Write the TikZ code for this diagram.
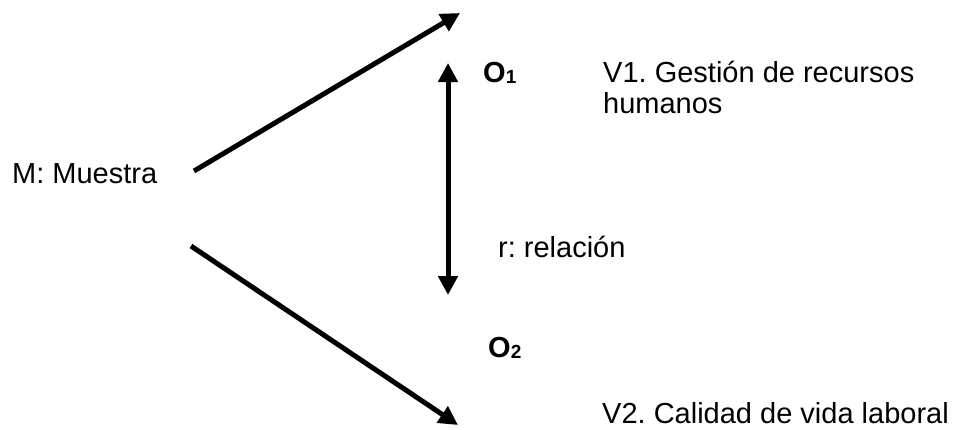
\documentclass[tikz,border=0pt]{standalone}
\usepackage{fontspec}
\setmainfont{Liberation Sans}
\usetikzlibrary{arrows.meta, positioning}
\frenchspacing
\tikzset{
    txt/.style = {inner sep=0pt, anchor=base west, font=\fontsize{29}{31}\selectfont},
    obs/.style = {inner sep=0pt, anchor=base west, font=\fontsize{29}{31}\selectfont\bfseries},
    arrow/.style = {line width=5pt, -{Triangle[length=19pt, width=19pt]}},
    twoarrow/.style = {line width=5pt, {Triangle[length=19pt, width=19pt]}-{Triangle[length=19pt, width=19pt]}}
}
\newcommand{\sub}[1]{{\fontsize{19}{19}\selectfont\raisebox{-1.5pt}{#1}}}

\begin{document}
\begin{tikzpicture}[x=1pt, y=-1pt]
\useasboundingbox (0,0) rectangle (954,429);
% Nodes
\node (M) [txt] at (12,183) {M: Muestra};
\node (O1) [obs] at (483,82) {O\sub{1}};
\node (O2) [obs] at (488,357) {O\sub{2}};
\node (V1) [txt, align=left] at (603,113) {V1. Gestión de recursos\\humanos};
\node (V2) [txt] at (602,423) {V2. Calidad de vida laboral};
\node (rel) [txt] at (498,257) {r: relación};

% Arrow ends
\coordinate (Mtop) at (194,171);
\coordinate (Mbot) at (191,246);
\coordinate (O1in) at (460,13);
\coordinate (O2in) at (458,425);
\coordinate (rtop) at (448,63);
\coordinate (rbot) at (448,295);

% Arrows
\draw [arrow] (Mtop) -- (O1in);
\draw [arrow] (Mbot) -- (O2in);
\draw [twoarrow] (rtop) -- (rbot);

\end{tikzpicture}
\end{document}
